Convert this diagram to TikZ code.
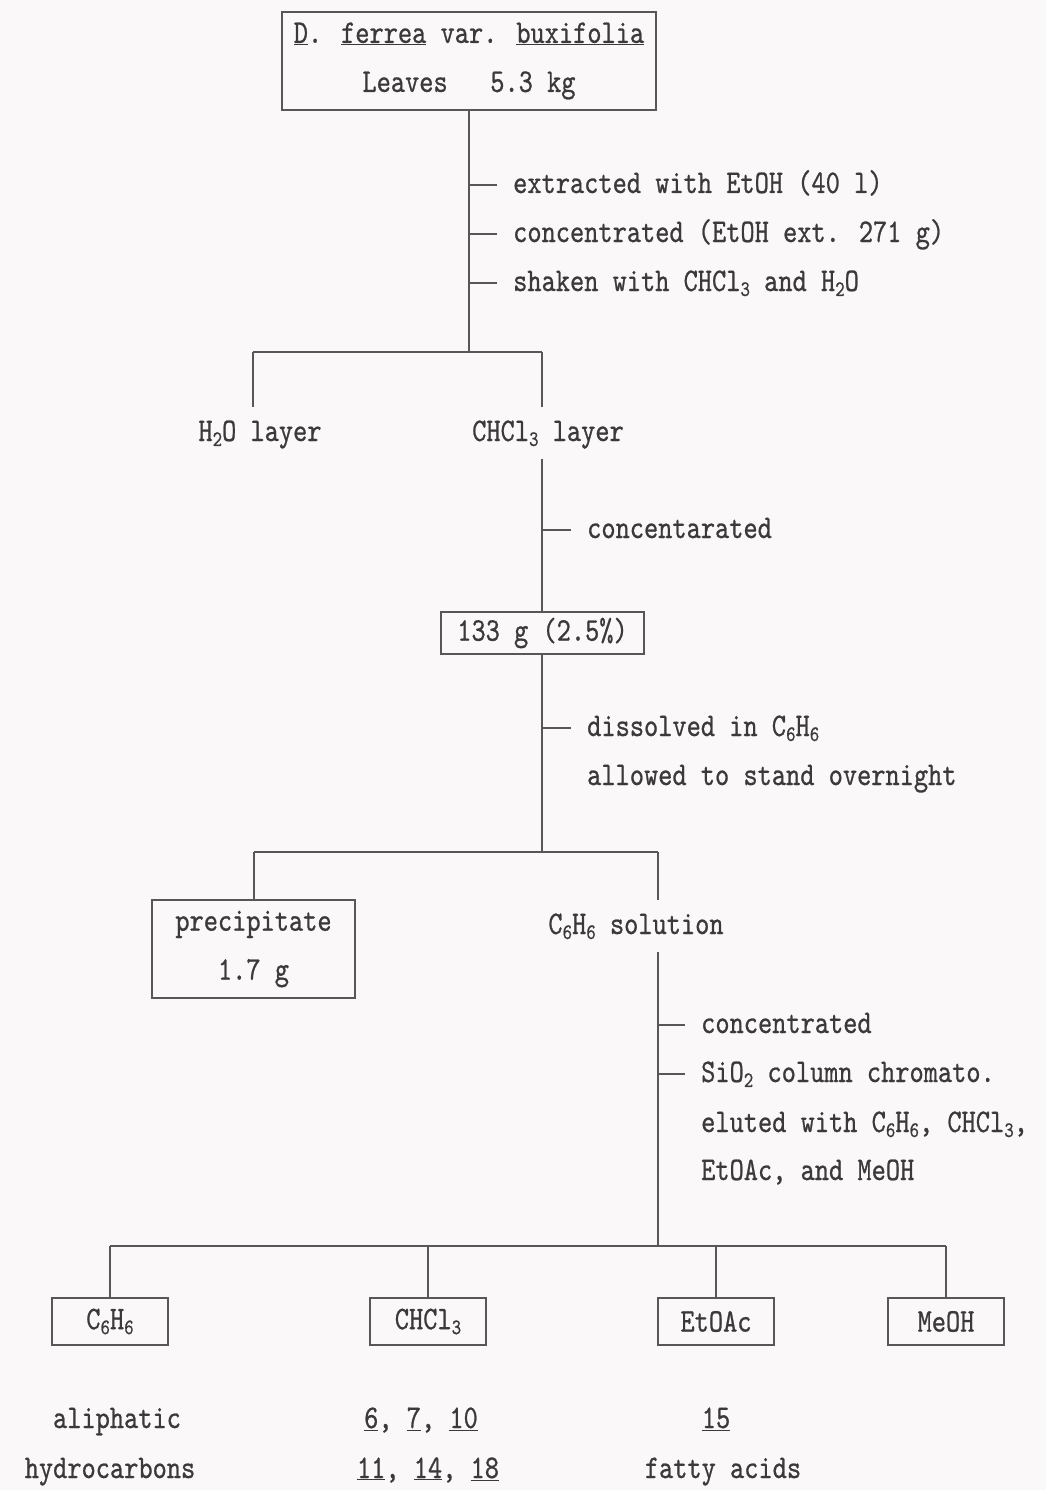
\documentclass[tikz,border=0pt]{standalone}
\usepackage{fontspec}
\newfontfamily\tw{lmmono10-regular.otf}[FakeStretch=0.82, FakeBold=0.7]
\newcommand\sbs[1]{\raisebox{-0.15em}{\fontsize{22}{22}\selectfont #1}}
\definecolor{ink}{HTML}{3C393B}
\definecolor{lc}{HTML}{5A5658}
\definecolor{bgc}{HTML}{FAF8F8}
\tikzset{
  txt/.style={font=\tw\fontsize{33}{49}\selectfont, text=ink, inner sep=0pt, text height=23pt, text depth=7pt},
  lbl/.style={txt, inner ysep=11pt},
  boxn/.style={font=\tw\fontsize{33}{49}\selectfont, text=ink, inner sep=0pt, draw=lc, line width=1.5pt, align=center},
  ln/.style={draw=lc, line width=1.5pt},
}
\begin{document}
\begin{tikzpicture}[x=1pt,y=-1pt]
\fill[bgc] (0,0) rectangle (1046,1490);
\useasboundingbox (0,0) rectangle (1046,1490);

% top
\node[boxn, minimum width=374pt, minimum height=98pt] (src) at (469,61)
  {\underline{D}. \underline{ferrea} var. \underline{buxifolia}\\Leaves\ \ \ 5.3 kg};
\node[txt, anchor=west] (s1) at (513,185) {extracted with EtOH (40 l)};
\node[txt, anchor=west] (s2) at (513,234) {concentrated (EtOH ext. 271 g)};
\node[txt, anchor=west] (s3) at (513,283) {shaken with CHCl\sbs{3} and H\sbs{2}O};
\coordinate (j1) at (469,352);
\coordinate (j1l) at (253,352);
\coordinate (j1r) at (542,352);
\draw[ln] (src.south) -- (j1);
\foreach \s in {s1,s2,s3} \draw[ln] (src.south |- \s.west) -- ([xshift=-16pt]\s.west);
\draw[ln] (j1l) -- (j1r);
\node[lbl] (h2o) at (260,433) {H\sbs{2}O layer};
\node[lbl] (chl) at (548,433) {CHCl\sbs{3} layer};
\draw[ln] (j1l) -- (j1l |- h2o.north);
\draw[ln] (j1r) -- (j1r |- chl.north);

% CHCl3 layer
\node[boxn, minimum width=203pt, minimum height=42pt] (b133) at (542.5,633) {133 g (2.5\%)};
\node[txt, anchor=west] (c1) at (587,530) {concentarated};
\draw[ln] (j1r |- chl.south) -- (j1r |- b133.north);
\draw[ln] (j1r |- c1.west) -- ([xshift=-16pt]c1.west);

\node[txt, anchor=west] (d1) at (587,728) {dissolved in C\sbs{6}H\sbs{6}};
\node[txt, anchor=west] (d2) at (587,777) {allowed to stand overnight};
\coordinate (j2) at (542,852);
\coordinate (j2l) at (254,852);
\coordinate (j2r) at (658,852);
\draw[ln] (b133.south -| j2) -- (j2);
\draw[ln] (j2 |- d1.west) -- ([xshift=-16pt]d1.west);
\draw[ln] (j2l) -- (j2r);

\node[boxn, minimum width=203pt, minimum height=98pt] (prec) at (253.5,949) {precipitate\\1.7 g};
\node[lbl] (sol) at (636,926) {C\sbs{6}H\sbs{6} solution};
\draw[ln] (j2l) -- (j2l |- prec.north);
\draw[ln] (j2r) -- (j2r |- sol.north);

% column
\coordinate (j3) at (658,1246);
\coordinate (j3l) at (110,1246);
\coordinate (j3r) at (946,1246);
\draw[ln] (j2r |- sol.south) -- (j3);
\node[txt, anchor=west] (e1) at (701,1025) {concentrated};
\node[txt, anchor=west] (e2) at (701,1074) {SiO\sbs{2} column chromato.};
\node[txt, anchor=west] (e3) at (701,1124) {eluted with C\sbs{6}H\sbs{6}, CHCl\sbs{3},};
\node[txt, anchor=west] (e4) at (701,1172) {EtOAc, and MeOH};
\draw[ln] (j3 |- e1.west) -- ([xshift=-16pt]e1.west);
\draw[ln] (j3 |- e2.west) -- ([xshift=-16pt]e2.west);
\draw[ln] (j3l) -- (j3r);

\node[boxn, minimum width=116pt, minimum height=47pt] (f1) at (110,1321.5) {C\sbs{6}H\sbs{6}};
\node[boxn, minimum width=116pt, minimum height=47pt] (f2) at (428,1321.5) {CHCl\sbs{3}};
\node[boxn, minimum width=116pt, minimum height=47pt] (f3) at (716,1321.5) {EtOAc};
\node[boxn, minimum width=116pt, minimum height=47pt] (f4) at (946,1321.5) {MeOH};
\foreach \f in {f1,f2,f3,f4} \draw[ln] (\f.north |- j3l) -- (\f.north);

% results
\node[txt] (r1a) at (117,1420) {aliphatic};
\node[txt] (r1b) at (110,1470) {hydrocarbons};
\node[txt] (r2a) at (421,1420) {\underline{6}, \underline{7}, \underline{10}};
\node[txt] (r2b) at (428,1470) {\underline{11}, \underline{14}, \underline{18}};
\node[txt] (r3a) at (716,1420) {\underline{15}};
\node[txt] (r3b) at (723,1470) {fatty acids};
\end{tikzpicture}
\end{document}
